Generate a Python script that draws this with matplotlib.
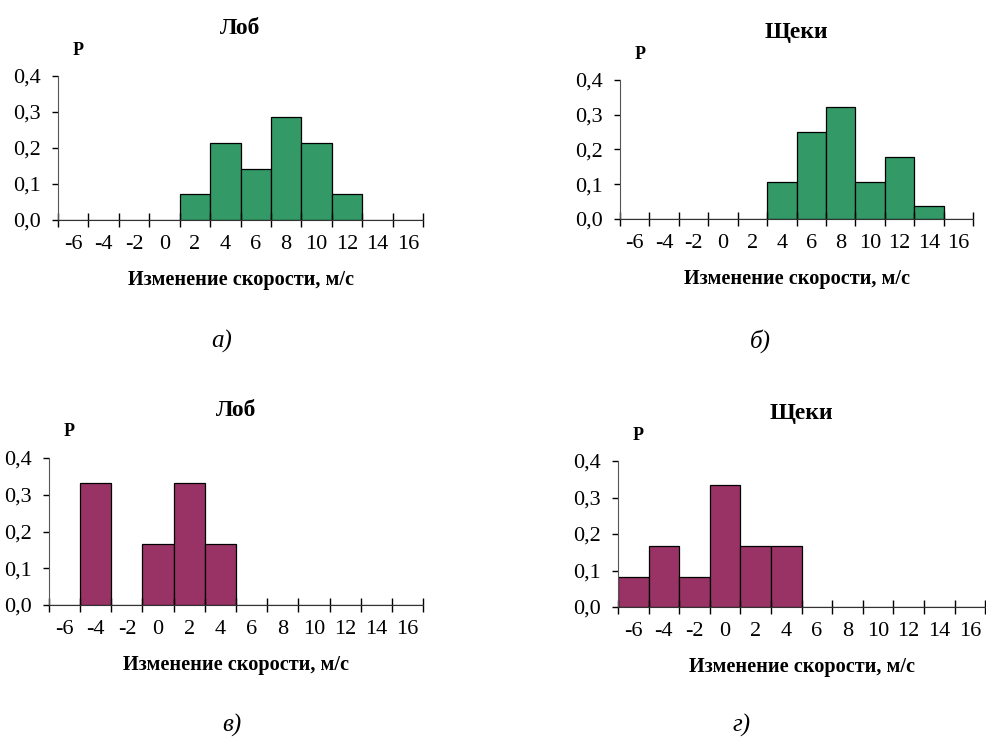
import matplotlib
matplotlib.use("Agg")
import matplotlib.pyplot as plt
import numpy as np

# categories on the x axis (m/s)
categories = [-6, -4, -2, 0, 2, 4, 6, 8, 10, 12, 14, 16]
y_ticks = [0.0, 0.1, 0.2, 0.3, 0.4]
y_tick_labels = ["0,0", "0,1", "0,2", "0,3", "0,4"]

# probabilities per category
lob_a = [0, 0, 0, 0, 0.071, 0.214, 0.143, 0.286, 0.214, 0.071, 0, 0]
scheki_b = [0, 0, 0, 0, 0, 0.107, 0.25, 0.321, 0.107, 0.179, 0.036, 0]
lob_v = [0, 0.333, 0, 0.167, 0.333, 0.167, 0, 0, 0, 0, 0, 0]
scheki_g = [0.083, 0.167, 0.083, 0.333, 0.167, 0.167, 0, 0, 0, 0, 0, 0]

titles = ["Лоб", "Щеки", "Лоб", "Щеки"]
letters = ["а)", "б)", "в)", "г)"]
xlabel = "Изменение скорости, м/с"

green = "#339966"
purple = "#993366"

plt.rcParams['font.family'] = ['Liberation Serif', 'DejaVu Serif']

fig = plt.figure(figsize=(9.87, 7.38), dpi=100)

panels = [
    # values, color, axes rect, letter position
    (lob_a, green, [0.0588, 0.7019, 0.3698, 0.1951], (0.225, 0.522)),
    (scheki_b, green, [0.6282, 0.7033, 0.3577, 0.1883], (0.770, 0.522)),
    (lob_v, purple, [0.0496, 0.1802, 0.3790, 0.1992], (0.235, 0.002)),
    (scheki_g, purple, [0.6261, 0.1775, 0.3720, 0.1978], (0.751, 0.002)),
]

for i, (vals, color, rect, letter_pos) in enumerate(panels):
    ax = fig.add_axes(rect)
    x = np.arange(len(categories))
    ax.bar(x, vals, width=1.0, color=color, edgecolor="black", linewidth=0.9)
    ax.set_xlim(-0.5, len(categories) - 0.5)
    ax.set_ylim(0, 0.4)

    # tick marks between categories, labels at the centers
    ax.set_xticks(np.arange(-0.5, len(categories), 1.0))
    ax.set_xticklabels([])
    ax.set_xticks(x, minor=True)
    ax.set_xticklabels([str(c) for c in categories], minor=True, fontsize=16)
    ax.tick_params(axis="x", which="major", direction="inout", length=10, width=1, color="black")
    ax.tick_params(axis="x", which="minor", length=0, pad=11)

    ax.set_yticks(y_ticks)
    ax.set_yticklabels(y_tick_labels, fontsize=16)
    ax.tick_params(axis="y", direction="out", length=4.5, width=1, pad=8)

    for s in ["top", "right"]:
        ax.spines[s].set_visible(False)
    ax.spines["left"].set_color("#555555")
    ax.spines["bottom"].set_color("#333333")

    ax.set_title(titles[i], fontsize=17, fontweight="bold", pad=30)
    ax.text(0.04, 1.12, "P", transform=ax.transAxes, fontsize=13, fontweight="bold",
            ha="left", va="bottom")
    ax.set_xlabel(xlabel, fontsize=14.6, fontweight="bold", labelpad=11)

    fig.text(letter_pos[0], letter_pos[1], letters[i], fontsize=18, style="italic",
             ha="center", va="bottom")

fig.savefig("out.png", dpi=100)
